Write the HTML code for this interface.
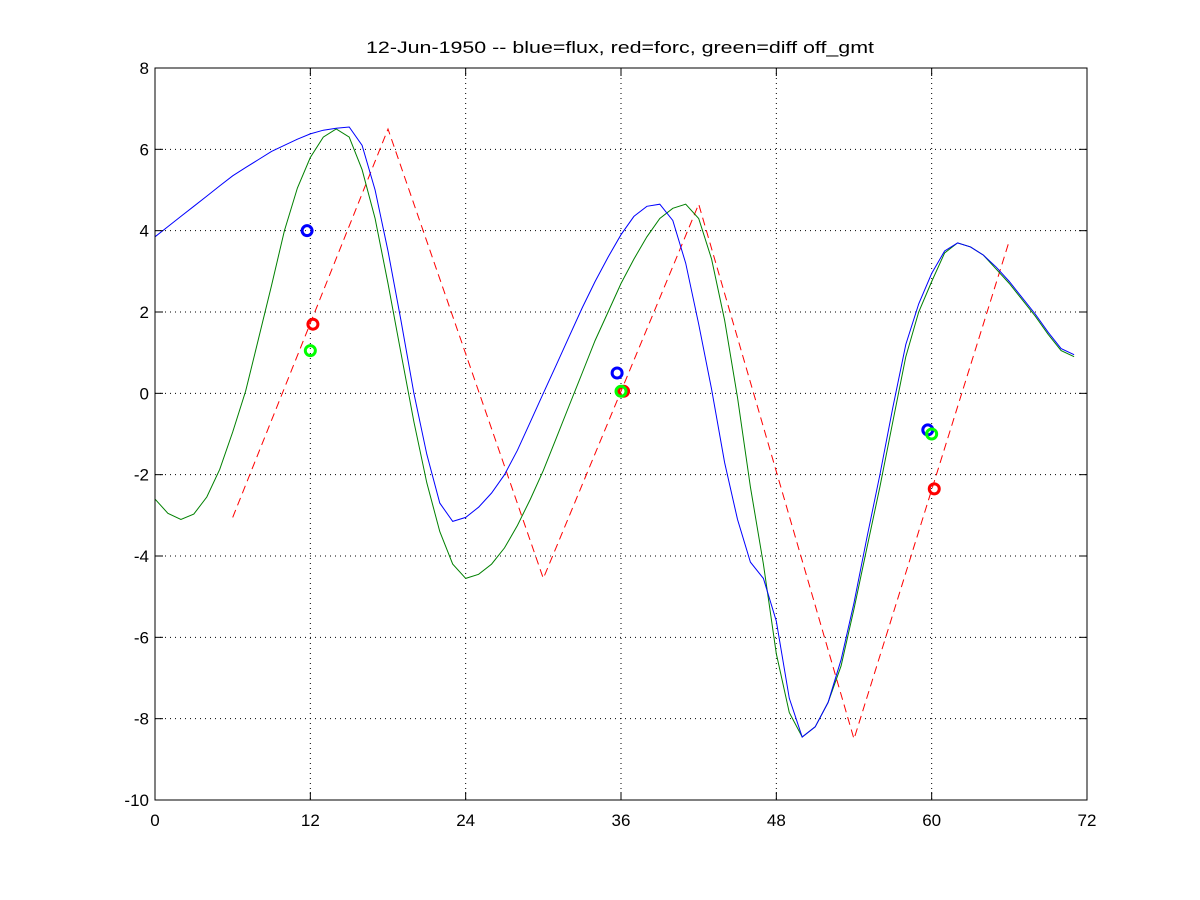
<!DOCTYPE html>
<html><head><meta charset="utf-8"><style>
body{margin:0;background:#fff}
svg{display:block;font-family:"Liberation Sans",sans-serif}
</style></head><body>
<svg id="chart" width="1200" height="900" viewBox="0 0 1200 900" xmlns="http://www.w3.org/2000/svg">
<rect width="1200" height="900" fill="#fff"/>
<text x="620" y="53" text-anchor="middle" font-size="17" textLength="508" lengthAdjust="spacingAndGlyphs">12-Jun-1950 -- blue=flux, red=forc, green=diff off_gmt</text>
<g id="grid"></g>
<g id="series"></g>
<rect x="155" y="68" width="932" height="732" fill="none" stroke="#000"/>
<g id="ticks"></g>
</svg>
<script>
const xTicks=[0,12,24,36,48,60,72];
const yTicks=[-10,-8,-6,-4,-2,0,2,4,6,8];
const flux=[3.85,4.1,4.35,4.6,4.85,5.1,5.35,5.55,5.75,5.95,6.1,6.25,6.38,6.47,6.52,6.55,6.1,5.0,3.5,1.8,0.0,-1.5,-2.7,-3.15,-3.05,-2.8,-2.45,-2.0,-1.4,-0.7,0.0,0.7,1.4,2.1,2.75,3.35,3.9,4.35,4.6,4.65,4.25,3.2,1.7,0.1,-1.7,-3.1,-4.15,-4.55,-5.6,-7.5,-8.45,-8.2,-7.6,-6.55,-5.15,-3.55,-2.0,-0.35,1.2,2.2,2.95,3.5,3.7,3.6,3.4,3.1,2.75,2.35,1.95,1.5,1.1,0.95];
const diff=[-2.6,-2.95,-3.1,-2.97,-2.55,-1.87,-0.95,0.05,1.35,2.65,4.0,5.05,5.8,6.3,6.5,6.3,5.5,4.3,2.7,1.0,-0.7,-2.2,-3.4,-4.2,-4.55,-4.45,-4.2,-3.8,-3.25,-2.6,-1.9,-1.1,-0.3,0.5,1.3,2.0,2.7,3.3,3.85,4.3,4.55,4.65,4.3,3.3,1.8,-0.1,-2.3,-4.2,-6.4,-7.85,-8.45,-8.2,-7.6,-6.7,-5.3,-3.8,-2.3,-0.7,0.9,2.0,2.75,3.45,3.7,3.6,3.4,3.05,2.7,2.3,1.9,1.45,1.05,0.9];
const forcX=[6,18,30,42,54,66];
const forcY=[-3.05,6.5,-4.55,4.65,-8.5,3.75];
const circX=[[11.75,35.7,59.7],[12.2,36.2,60.2],[12,36,60]];
const circY=[[4.0,0.5,-0.9],[1.7,0.05,-2.35],[1.05,0.05,-1.0]];
const circNames=['flux-marker','forc-marker','diff-marker'];
const circColors=['#0000ff','#ff0000','#00ff00'];

const NS='http://www.w3.org/2000/svg';
const X=v=>155+v*932/72;
const Y=v=>68+(8-v)*732/18;
function mk(tag,attrs,parent){const e=document.createElementNS(NS,tag);for(const k in attrs)e.setAttribute(k,attrs[k]);parent.appendChild(e);return e;}
const grid=document.getElementById('grid'),ticks=document.getElementById('ticks'),ser=document.getElementById('series');
xTicks.forEach(t=>{
  if(t>0&&t<72){const g=mk('line',{x1:X(t),x2:X(t),y1:68,y2:800,stroke:'#000','stroke-dasharray':'1 4'},grid);
  
  }
  const a=mk('line',{x1:X(t),x2:X(t),y1:800,y2:792,stroke:'#000'},ticks);
  
  
  const b=mk('line',{x1:X(t),x2:X(t),y1:68,y2:76,stroke:'#000'},ticks);
  
  
  const l=mk('text',{x:X(t),y:826,'text-anchor':'middle','font-size':17},ticks);l.textContent=t;
  
  
});
yTicks.forEach(t=>{
  if(t>-10&&t<8){const g=mk('line',{x1:155,x2:1087,y1:Y(t),y2:Y(t),stroke:'#000','stroke-dasharray':'1 4'},grid);
  
  }
  const a=mk('line',{x1:155,x2:163,y1:Y(t),y2:Y(t),stroke:'#000'},ticks);
  
  
  const b=mk('line',{x1:1079,x2:1087,y1:Y(t),y2:Y(t),stroke:'#000'},ticks);
  
  
  const l=mk('text',{x:149,y:Y(t)+6,'text-anchor':'end','font-size':17},ticks);l.textContent=t;
  
  
});
const pts=(xs,ys)=>ys.map((v,i)=>X(xs[i]).toFixed(1)+','+Y(v).toFixed(1)).join(' ');
const idx=flux.map((_,i)=>i);
const f=mk('polyline',{points:pts(forcX,forcY),fill:'none',stroke:'#ff0000','stroke-dasharray':'8 5'},ser);


const d=mk('polyline',{points:pts(diff.map((_,i)=>i),diff),fill:'none',stroke:'#008000'},ser);


const b=mk('polyline',{points:pts(idx,flux),fill:'none',stroke:'#0000ff'},ser);


circX.forEach((xs,s)=>xs.forEach((x,i)=>{
  const c=mk('circle',{cx:X(x),cy:Y(circY[s][i]),r:5,fill:'none',stroke:circColors[s],'stroke-width':3},ser);
  
  
}));
</script>
</body></html>
